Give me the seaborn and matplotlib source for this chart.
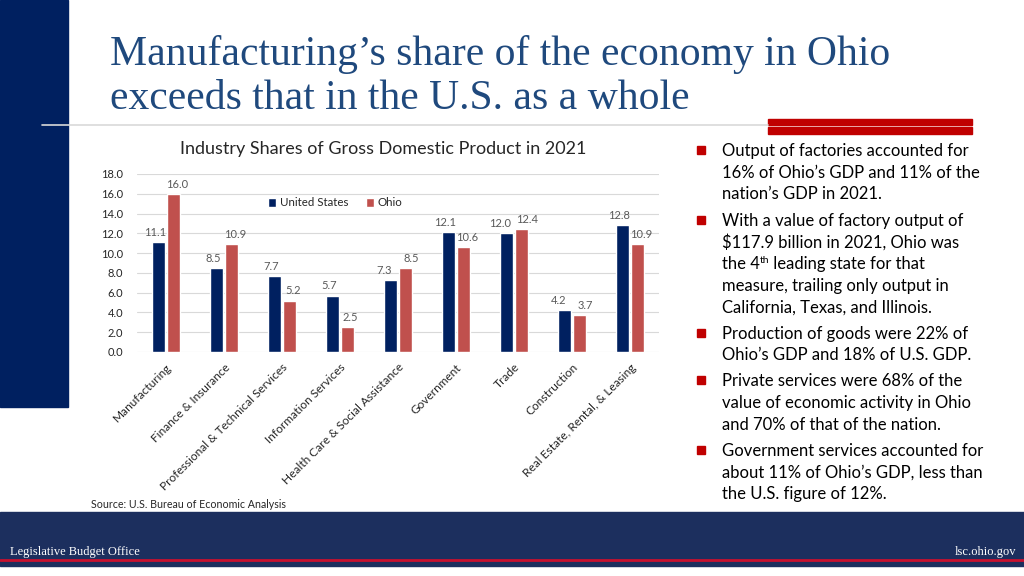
import matplotlib
matplotlib.use("Agg")
import matplotlib.pyplot as plt
from matplotlib.patches import Rectangle
import pandas as pd
import seaborn as sns

# chart data (percent of GDP, 2021)
industries = [
    "Manufacturing",
    "Finance & Insurance",
    "Professional & Technical Services",
    "Information Services",
    "Health Care & Social Assistance",
    "Government",
    "Trade",
    "Construction",
    "Real Estate, Rental, & Leasing",
]
us_share = [11.1, 8.5, 7.7, 5.7, 7.3, 12.1, 12.0, 4.2, 12.8]
ohio_share = [16.0, 10.9, 5.2, 2.5, 8.5, 10.6, 12.4, 3.7, 10.9]
series_names = ["United States", "Ohio"]
y_ticks = [0, 2, 4, 6, 8, 10, 12, 14, 16, 18]

title_lines = [
    "Manufacturing\u2019s share of the economy in Ohio",
    "exceeds that in the U.S. as a whole",
]
chart_title = "Industry Shares of Gross Domestic Product in 2021"
source_note = "Source: U.S. Bureau of Economic Analysis"

# bullet points, one list of lines per bullet ("|" marks a superscript)
bullets = [
    ["Output of factories accounted for",
     "16% of Ohio\u2019s GDP and 11% of the",
     "nation\u2019s GDP in 2021."],
    ["With a value of factory output of",
     "$117.9 billion in 2021, Ohio was",
     "the 4|th| leading state for that",
     "measure, trailing only output in",
     "California, Texas, and Illinois."],
    ["Production of goods were 22% of",
     "Ohio\u2019s GDP and 18% of U.S. GDP."],
    ["Private services were 68% of the",
     "value of economic activity in Ohio",
     "and 70% of that of the nation."],
    ["Government services accounted for",
     "about 11% of Ohio\u2019s GDP, less than",
     "the U.S. figure of 12%."],
]

NAVY = "#002060"
OHIO_RED = "#C0504D"
BANNER_RED = "#C00000"
TITLE_BLUE = "#1F497D"

df = pd.DataFrame({
    "industry": industries * 2,
    "share": us_share + ohio_share,
    "series": [series_names[0]] * len(industries) + [series_names[1]] * len(industries),
})

sns.set_theme(style="white")
plt.rcParams["font.family"] = ["Lato", "DejaVu Sans"]

W, H = 1024, 576
fig = plt.figure(figsize=(W / 100, H / 100), dpi=100)


def fx(px):
    return px / W


def fy(py):
    return 1 - py / H


# slide decorations
fig.patches.append(Rectangle((0, fy(407)), fx(68), 1 - fy(407), transform=fig.transFigure,
                             color=NAVY, zorder=0))
fig.lines.append(plt.Line2D([fx(42), fx(768)], [fy(125), fy(125)], transform=fig.transFigure,
                            color="#D9D9D9", lw=1.2))
fig.patches.append(Rectangle((fx(768), fy(125)), fx(204), fy(119) - fy(125), transform=fig.transFigure,
                             color=BANNER_RED))
fig.patches.append(Rectangle((fx(768), fy(134)), fx(204), fy(126.5) - fy(134), transform=fig.transFigure,
                             color=BANNER_RED))
fig.patches.append(Rectangle((0, fy(566)), 1, fy(512) - fy(566), transform=fig.transFigure,
                             color="#1C2F5E", zorder=0))
fig.lines.append(plt.Line2D([0, 1], [fy(560), fy(560)], transform=fig.transFigure,
                            color="#C8102E", lw=2))

fig.text(fx(10), fy(555), "Legislative Budget Office", family="Liberation Serif",
         fontsize=9, color="white", va="baseline")
fig.text(fx(1016), fy(555), "lsc.ohio.gov", family="Liberation Serif",
         fontsize=9, color="white", va="baseline", ha="right")

for i, line in enumerate(title_lines):
    fig.text(fx(110), fy(65 + i * 44), line, family="Liberation Serif", fontsize=30,
             color=TITLE_BLUE, va="baseline")

# chart
ax = fig.add_axes([fx(137), fy(352), fx(659) - fx(137), fy(174) - fy(352)])
sns.barplot(data=df, x="industry", y="share", hue="series", order=industries,
            hue_order=series_names, palette=[NAVY, OHIO_RED], width=0.5, gap=0.08,
            saturation=1, ax=ax)
label_sets = []
for cont in ax.containers:
    label_sets.append(ax.bar_label(cont, fmt="%.1f", padding=3, fontsize=8, color="#595959"))

# nudge the pair of labels apart so they don't collide
for k, (t_us, t_oh) in enumerate(zip(label_sets[0], label_sets[1])):
    shift = 4.5 if abs(us_share[k] - ohio_share[k]) < 1.5 else 2.5
    t_us.xyann = (-shift, 3)
    t_oh.xyann = (shift, 3)

ax.set_ylim(0, 18)
ax.set_yticks(y_ticks)
ax.set_yticklabels([f"{v:.1f}" for v in y_ticks], fontsize=8, color="#262626")
ax.set_xlim(-0.5, len(industries) - 0.5)
ax.set_xticks(range(len(industries)))
ax.set_xticklabels(industries, rotation=45, ha="right", rotation_mode="anchor",
                   fontsize=8.6, color="#262626")
ax.tick_params(axis="x", length=0, pad=7)
ax.tick_params(axis="y", length=0, pad=10)
ax.set_xlabel("")
ax.set_ylabel("")
ax.grid(axis="y", color="#D9D9D9", lw=0.8)
ax.set_axisbelow(True)
for s in ax.spines.values():
    s.set_visible(False)

ax.legend(loc="center", bbox_to_anchor=(fx(335), fy(203)), bbox_transform=fig.transFigure,
          ncol=2, frameon=False, fontsize=8.3, handlelength=0.7, handleheight=0.7,
          handletextpad=0.3, columnspacing=1.5)

fig.text(fx(383), fy(149), chart_title, ha="center", va="center", fontsize=13, color="#262626")
fig.text(fx(91), fy(505), source_note, ha="left", va="center", fontsize=7.7, color="#262626")

# bullets
y = 156
line_h = 21.7
for b in bullets:
    fig.patches.append(Rectangle((fx(697), fy(y - 2)), fx(8), fy(y - 10) - fy(y - 2),
                                 transform=fig.transFigure, color=BANNER_RED))
    for line in b:
        if "|" in line:
            pre, sup, post = line.split("|")
            t = fig.text(fx(722), fy(y), pre, fontsize=12, color="black", va="baseline")
            fig.canvas.draw()
            bb = t.get_window_extent()
            t2 = fig.text(bb.x1 / W, fy(y - 6), sup, fontsize=7.5, color="black", va="baseline")
            bb2 = t2.get_window_extent()
            fig.text(bb2.x1 / W, fy(y), post, fontsize=12, color="black", va="baseline")
        else:
            fig.text(fx(722), fy(y), line, fontsize=12, color="black", va="baseline")
        y += line_h
    y += 4.5

fig.savefig("out.png", dpi=100)
